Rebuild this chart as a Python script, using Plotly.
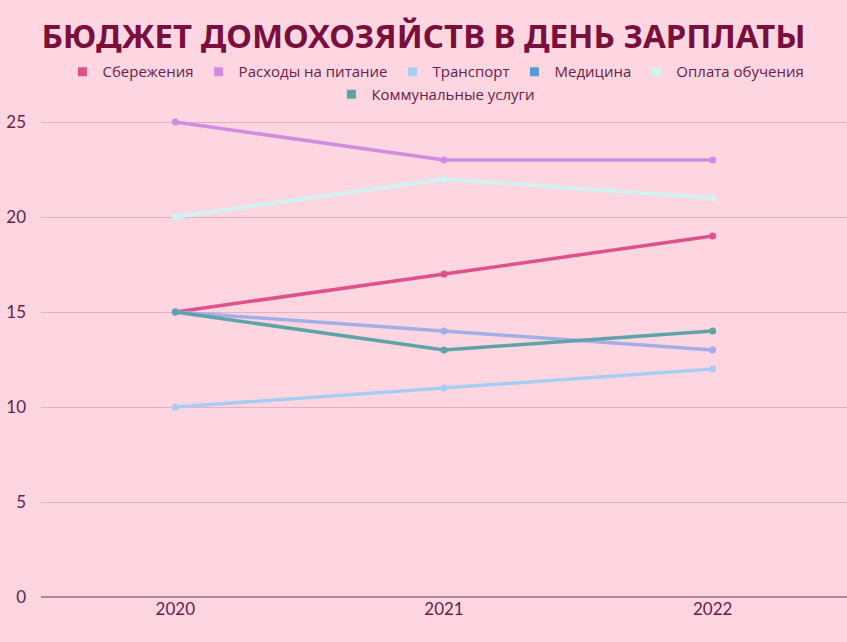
import plotly.graph_objects as go

# Data
years = ["2020", "2021", "2022"]
savings = [15, 17, 19]
food = [25, 23, 23]
transport = [10, 11, 12]
medicine = [15, 14, 13]
education = [20, 22, 21]
utilities = [15, 13, 14]

series_names = ["Сбережения", "Расходы на питание", "Транспорт",
                "Медицина", "Оплата обучения", "Коммунальные услуги"]
series_values = [savings, food, transport, medicine, education, utilities]
colors = ["#e0508a", "#d08ce0", "#a8cdf2", "#5a9ad2", "#cef4f2", "#5fa3a8"]
line_colors = ["#e0508a", "#d08ce0", "#a8cdf2", "#a3aee6", "#cef4f2", "#5fa3a8"]
legend_rows = ["legend", "legend", "legend", "legend", "legend", "legend2"]

fig = go.Figure()
for name, vals, col in zip(series_names, series_values, line_colors):
    fig.add_trace(go.Scatter(
        x=years, y=vals, name=name, mode="lines+markers",
        line=dict(color=col, width=3.5),
        marker=dict(color=col, size=7),
        cliponaxis=False, showlegend=False,
    ))

# square legend symbols like the reference, split over two centred rows
for name, col, lg in zip(series_names, colors, legend_rows):
    fig.add_trace(go.Scatter(
        x=[None], y=[None], name=name, mode="markers",
        marker=dict(color=col, size=9, symbol="square"),
        hoverinfo="skip", legend=lg,
    ))

text_color = "#6b2046"
legend_style = dict(
    orientation="h", x=0.49, xanchor="center", yanchor="middle",
    font=dict(family="Open Sans", size=15, color=text_color),
    itemwidth=30, traceorder="normal",
    bgcolor="rgba(0,0,0,0)",
)
fig.update_layout(
    width=847, height=642,
    paper_bgcolor="#fdd6e2",
    plot_bgcolor="#fdd6e2",
    margin=dict(l=41, r=0, t=103, b=45),
    title=dict(
        text="<b>БЮДЖЕТ ДОМОХОЗЯЙСТВ В ДЕНЬ ЗАРПЛАТЫ</b>",
        x=0.5, xanchor="center", y=0.943, yanchor="middle",
        font=dict(family="Noto Sans", size=33, color="#7a0f3c"),
    ),
    legend=dict(legend_style, y=1.063),
    legend2=dict(legend_style, y=1.017),
    font=dict(family="Open Sans", color=text_color),
    hovermode="x unified",
)
fig.update_xaxes(
    type="category", range=[-0.5, 2.5],
    showgrid=False, zeroline=False, showline=False,
    tickfont=dict(family="Lato", size=17, color=text_color), ticks="",
)
fig.update_yaxes(
    range=[0, 26], tickvals=[0, 5, 10, 15, 20, 25],
    gridcolor="#e8b0c2", gridwidth=1,
    zeroline=True, zerolinecolor="#b08a9c", zerolinewidth=1.5,
    showline=False, ticks="", ticklabelstandoff=14,
    tickfont=dict(family="Lato", size=17, color=text_color),
)

fig.write_html("out.html", config={"displayModeBar": False},
               post_script="document.body.style.margin='0';")
